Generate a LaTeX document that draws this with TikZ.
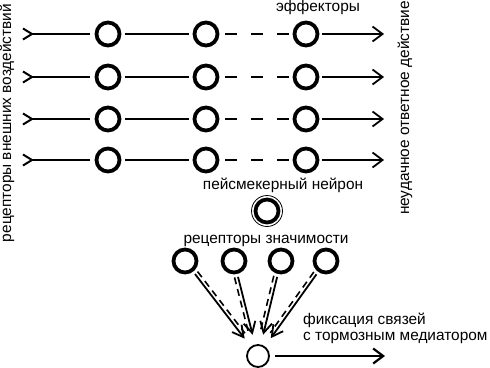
\documentclass[tikz,border=0pt]{standalone}
\usepackage{fontspec}
\setmainfont{Liberation Sans}
\usetikzlibrary{arrows.meta,calc}
\begin{document}
\begin{tikzpicture}[x=1pt,y=1pt,
  neur/.style={circle,draw,line width=3.8pt,minimum size=23pt,inner sep=0pt},
  lnk/.style={line width=1.8pt},
  dsh/.style={line width=1.8pt,dash pattern=on 12pt off 14pt,dash phase=20pt},
  lbl/.style={font=\fontsize{15.4}{18}\selectfont,inner sep=0pt},
  tailtip/.style={{Straight Barb[reversed,length=9pt,width=11pt,line width=2pt]}-},
  headtip/.style={-{Straight Barb[length=10pt,width=15pt]}},
  smalltip/.style={-{Straight Barb[length=11pt,width=12pt]}},
  cdash/.style={line width=1.6pt,dash pattern=on 7pt off 5pt}
]
\useasboundingbox (0,0) rectangle (490,-367);

\foreach \i/\y in {1/34,2/77,3/119,4/160} {
  \coordinate (in\i) at (22,-\y);
  \node[neur] (a\i) at (108,-\y) {};
  \node[neur] (b\i) at (206,-\y) {};
  \node[neur] (c\i) at (306,-\y) {};
  \coordinate (out\i) at (384,-\y);
  \draw[lnk,tailtip,shorten >=5pt] (in\i) -- (a\i);
  \draw[lnk,shorten <=4pt,shorten >=4pt] (a\i) -- (b\i);
  \draw[dsh] (b\i) -- (c\i);
  \draw[lnk,headtip,shorten <=3pt] (c\i) -- (out\i);
}

\node[neur] (pm) at (267,-211) {};
\node[circle,draw,line width=0.8pt,minimum size=31pt,inner sep=0pt] (pmring) at (pm) {};

\foreach \i/\x in {1/185,2/234,3/281,4/326}
  \node[neur] (r\i) at (\x,-261) {};

\node[circle,draw,line width=1.8pt,minimum size=22pt,inner sep=0pt] (bot) at (258,-356) {};
\coordinate (fx) at (385,-356);

\foreach \i/\s in {1/90,2/-90,3/-90,4/-90} {
  \draw[lnk,smalltip,shorten <=3pt,shorten >=10pt] (r\i) -- (bot);
  \draw[cdash,shorten <=16pt,shorten >=26pt] ($(r\i)!3.5pt!\s:(bot)$) -- ($(bot)!3.5pt!-\s:(r\i)$);
}
\draw[line width=2.2pt,headtip,shorten <=5pt] (bot) -- (fx);

\node[lbl] (eff) at (318,-8) {эффекторы};
\node[lbl,rotate=90] (recv) at (7,-123) {рецепторы внешних воздействий};
\node[lbl,rotate=90] (fail) at (405,-108) {неудачное ответное действие};
\node[lbl] (pmt) at (283,-185) {пейсмекерный нейрон};
\node[lbl] (rzt) at (266,-241) {рецепторы значимости};
\node[lbl,anchor=west] (fx1) at (303,-320) {фиксация связей};
\node[lbl,anchor=west] (fx2) at (303,-338) {с тормозным медиатором};
\end{tikzpicture}
\end{document}
